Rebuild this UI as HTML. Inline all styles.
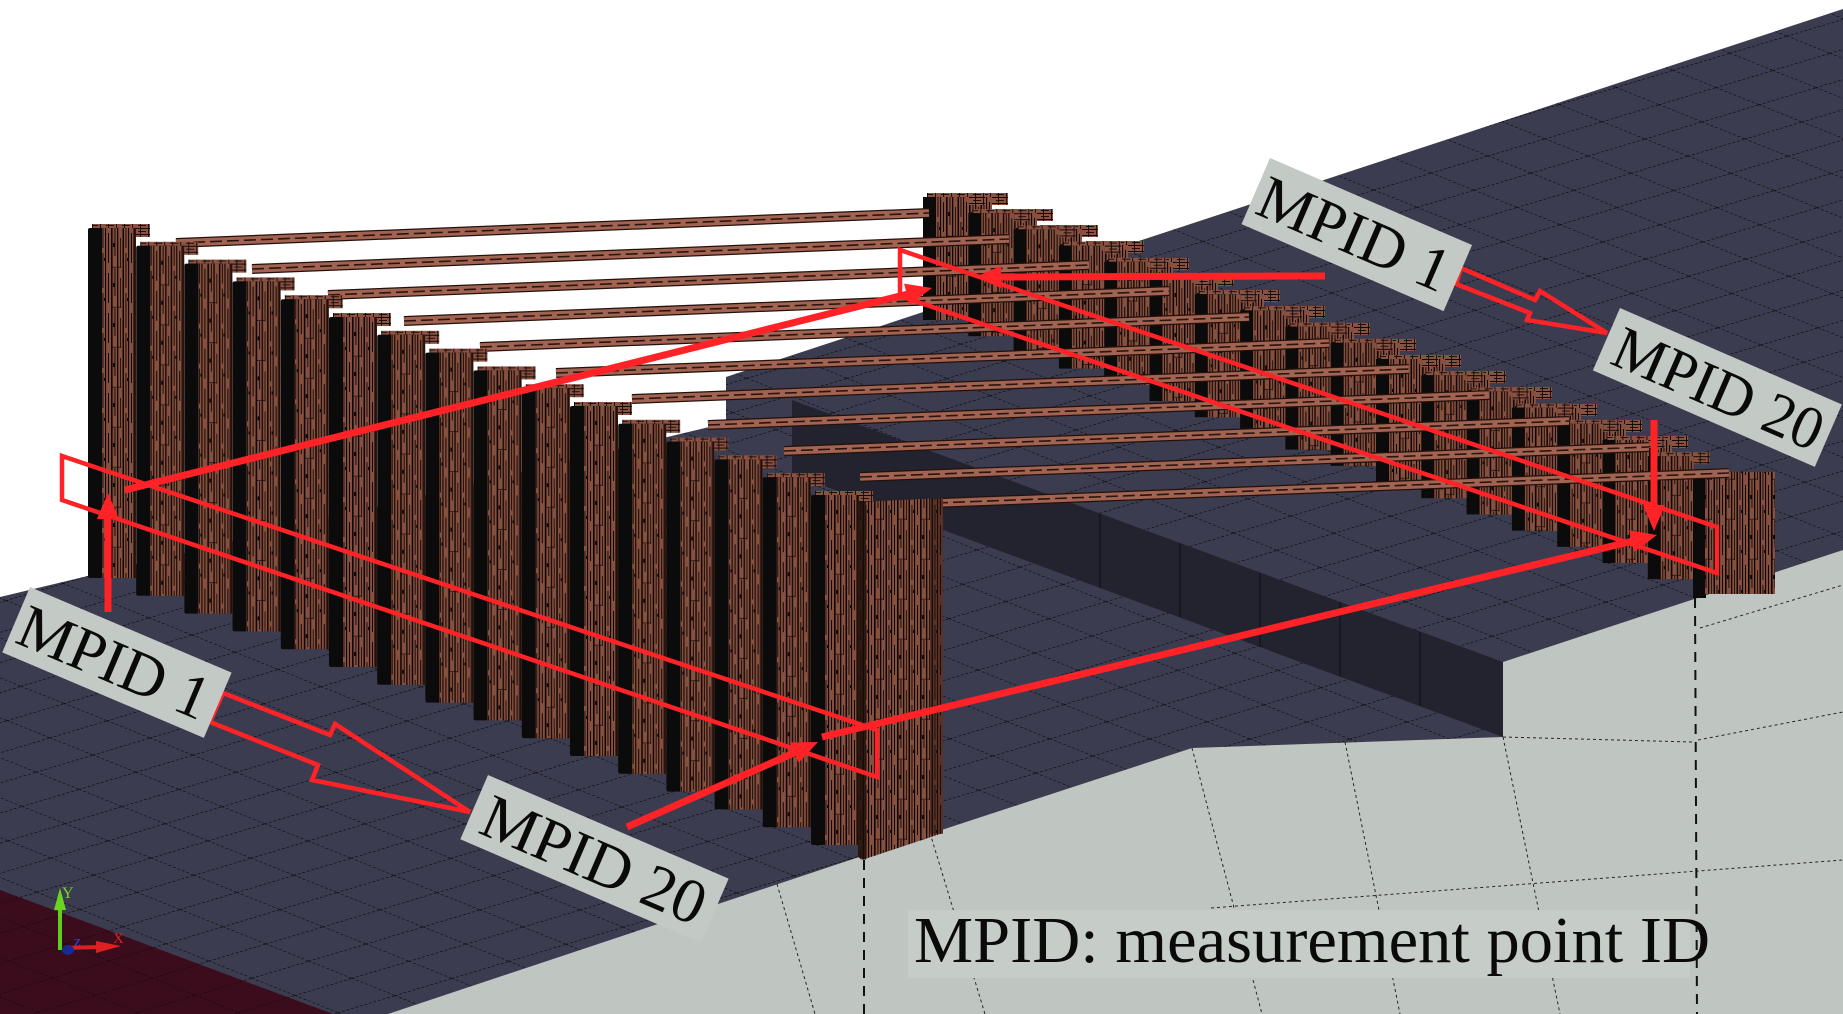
<!DOCTYPE html>
<html><head><meta charset="utf-8"><style>html,body{margin:0;padding:0;background:#fff}svg{display:block}</style></head>
<body>
<svg xmlns="http://www.w3.org/2000/svg" width="1843" height="1014" viewBox="0 0 1843 1014">
<defs>
<pattern id="wood" width="23" height="40" patternUnits="userSpaceOnUse">
<rect width="23" height="40" fill="#86503f"/>
<rect x="0" width="1.6" height="40" fill="#100605"/>
<rect x="3.5" y="0" width="0.9" height="28" fill="#100605"/>
<rect x="6" width="1.3" height="40" fill="#100605"/>
<rect x="9" y="10" width="0.8" height="30" fill="#100605"/>
<rect x="11.5" width="1.5" height="40" fill="#100605"/>
<rect x="14.5" y="0" width="0.9" height="20" fill="#100605"/>
<rect x="14.5" y="25" width="0.9" height="15" fill="#100605"/>
<rect x="17" width="1.1" height="40" fill="#100605"/>
<rect x="20" y="5" width="1" height="30" fill="#100605"/>
<rect x="2" y="15" width="2" height="4" fill="#100605"/>
<rect x="16" y="30" width="2" height="3" fill="#100605"/>
<rect x="0" y="38.8" width="9" height="0.7" fill="#100605"/>
</pattern>
<pattern id="woodh" width="16" height="6" patternUnits="userSpaceOnUse">
<rect width="16" height="6" fill="#8a5242"/>
<rect x="0" y="0" width="16" height="1" fill="#120806"/>
<rect x="2" y="3" width="8" height="0.9" fill="#120806"/>
<rect x="4" y="0" width="0.9" height="6" fill="#120806"/>
<rect x="12" y="0" width="0.9" height="6" fill="#120806"/>
</pattern>
<pattern id="grid" width="57" height="43" patternUnits="userSpaceOnUse" patternTransform="matrix(1,-0.3,1,0.4,0,0)">
<path d="M0,0.6H57 M0.6,0V43" stroke="#000" stroke-width="1.1" stroke-dasharray="2.5,2" fill="none" opacity="0.75"/>
</pattern>
<g id="fp">
<rect x="4" y="-4" width="58" height="13" fill="url(#woodh)"/>
<rect x="0" y="0" width="15" height="350" rx="2" fill="#0b0b0b"/>
<rect x="14" y="0" width="34" height="350" fill="url(#wood)"/>
<rect x="45" y="0" width="3" height="350" fill="#2a140f" opacity="0.7"/>
</g>
<g id="bp">
<rect x="4" y="-4" width="58" height="12" fill="url(#woodh)"/>
<rect x="0" y="0" width="13" height="123" fill="#0b0b0b"/>
<rect x="12" y="0" width="34" height="123" fill="url(#wood)"/>
</g>
</defs>

<rect width="1843" height="1014" fill="#ffffff"/>

<!-- ground -->
<path d="M0,597 L726,423 L726,377 L1843,9 L1843,1014 L0,1014 Z" fill="#3c3c50"/>
<path d="M0,597 L726,423 L726,377 L1843,9 L1843,1014 L0,1014 Z" fill="url(#grid)"/>
<!-- pit wall face -->
<path d="M792,400 L1503,662 L1503,737 L792,474 Z" fill="#23232f"/>
<g stroke="#000" stroke-width="1" opacity="0.6">
<line x1="1100" y1="514" x2="1100" y2="588"/><line x1="1180" y1="543" x2="1180" y2="617"/><line x1="1260" y1="573" x2="1260" y2="647"/><line x1="1340" y1="602" x2="1340" y2="676"/><line x1="1420" y1="632" x2="1420" y2="706"/>
</g>
<!-- light gray lower area -->
<path d="M388,1014 L850,860 L1192,748 L1503,737 L1503,662 L1843,550 L1843,1014 Z" fill="#bfc5c1"/>
<g stroke="#000" stroke-width="1" stroke-dasharray="3,3" fill="none" opacity="0.8">
<line x1="1192" y1="748" x2="1262" y2="1014"/>
<line x1="1345" y1="742" x2="1400" y2="1014"/>
<line x1="1503" y1="737" x2="1560" y2="1014"/>
<line x1="930" y1="833" x2="985" y2="1014"/>
<line x1="777" y1="884" x2="815" y2="1014"/>
<line x1="1211" y1="908" x2="1843" y2="860"/>
<line x1="1503" y1="737" x2="1692" y2="742"/>
<line x1="1698" y1="740" x2="1843" y2="712"/>
<line x1="1700" y1="628" x2="1843" y2="585"/>
</g>
<!-- maroon -->
<path d="M0,890 L333,1014 L0,1014 Z" fill="#3a0c1c"/>
<path d="M0,890 L333,1014 L0,1014 Z" fill="url(#grid)" opacity="0.6"/>

<!-- back piles: rear staggered row -->
<use href="#bp" x="946" y="197"/>
<use href="#bp" x="991" y="213"/>
<use href="#bp" x="1036" y="229"/>
<use href="#bp" x="1082" y="245"/>
<use href="#bp" x="1127" y="262"/>
<use href="#bp" x="1172" y="278"/>
<use href="#bp" x="1218" y="294"/>
<use href="#bp" x="1263" y="310"/>
<use href="#bp" x="1308" y="327"/>
<use href="#bp" x="1354" y="343"/>
<use href="#bp" x="1399" y="359"/>
<use href="#bp" x="1444" y="375"/>
<use href="#bp" x="1490" y="391"/>
<use href="#bp" x="1535" y="408"/>
<use href="#bp" x="1580" y="424"/>
<use href="#bp" x="1626" y="440"/>
<!-- back piles: main row -->
<use href="#bp" x="923" y="197"/>
<use href="#bp" x="968.3" y="213.2"/>
<use href="#bp" x="1013.6" y="229.4"/>
<use href="#bp" x="1058.9" y="245.6"/>
<use href="#bp" x="1104.2" y="261.8"/>
<use href="#bp" x="1149.5" y="278"/>
<use href="#bp" x="1194.8" y="294.2"/>
<use href="#bp" x="1240.1" y="310.4"/>
<use href="#bp" x="1285.4" y="326.6"/>
<use href="#bp" x="1330.7" y="342.8"/>
<use href="#bp" x="1376" y="359"/>
<use href="#bp" x="1421.3" y="375.2"/>
<use href="#bp" x="1466.6" y="391.4"/>
<use href="#bp" x="1511.9" y="407.6"/>
<use href="#bp" x="1557.2" y="423.8"/>
<use href="#bp" x="1602.5" y="440"/>
<use href="#bp" x="1647.8" y="456.2"/>
<g>
<rect x="1693" y="472" width="13" height="126" fill="#0b0b0b"/>
<rect x="1705" y="472" width="70" height="122" fill="url(#wood)"/>
</g>

<!-- cables -->
<g fill="none">
<path d="M176,243L929,213M252,269L1009,239M328,295L1089,265M404,321L1169,291M480,347L1249,317M556,373L1329,343M632,399L1409,369M708,425L1489,395M784,451L1569,421M860,477L1649,447M936,503L1729,473" stroke="#24100b" stroke-width="10"/>
<path d="M176,243L929,213M252,269L1009,239M328,295L1089,265M404,321L1169,291M480,347L1249,317M556,373L1329,343M632,399L1409,369M708,425L1489,395M784,451L1569,421M860,477L1649,447M936,503L1729,473" stroke="#a26452" stroke-width="7.5"/>
<path d="M176,243L929,213M252,269L1009,239M328,295L1089,265M404,321L1169,291M480,347L1249,317M556,373L1329,343M632,399L1409,369M708,425L1489,395M784,451L1569,421M860,477L1649,447M936,503L1729,473" stroke="#2a140e" stroke-width="1.6" stroke-dasharray="12,5"/>
</g>

<!-- front piles -->
<use href="#fp" x="88" y="228"/>
<use href="#fp" x="136.2" y="245.8"/>
<use href="#fp" x="184.4" y="263.6"/>
<use href="#fp" x="232.6" y="281.4"/>
<use href="#fp" x="280.8" y="299.2"/>
<use href="#fp" x="329" y="317"/>
<use href="#fp" x="377.2" y="334.8"/>
<use href="#fp" x="425.4" y="352.6"/>
<use href="#fp" x="473.6" y="370.4"/>
<use href="#fp" x="521.8" y="388.2"/>
<use href="#fp" x="570" y="406"/>
<use href="#fp" x="618.2" y="423.8"/>
<use href="#fp" x="666.4" y="441.6"/>
<use href="#fp" x="714.6" y="459.4"/>
<use href="#fp" x="762.8" y="477.2"/>
<use href="#fp" x="811" y="495"/>
<!-- corner pile -->
<path d="M858,502 L943,498 L943,833 L862,860 L858,857 Z" fill="url(#wood)"/>
<path d="M858,502 L866,502 L866,860 L858,857 Z" fill="#1a0c08" opacity="0.8"/>
<rect x="930" y="498" width="13" height="336" fill="#2a140f" opacity="0.5"/>

<!-- dashed vertical lines -->
<g stroke="#111" stroke-width="2" stroke-dasharray="10,8">
<line x1="864" y1="860" x2="864" y2="1014"/>
<line x1="1695" y1="598" x2="1697" y2="1014"/>
</g>

<!-- red boxes -->
<g fill="none" stroke="#ff2226" stroke-width="4.5" stroke-linejoin="miter">
<polygon points="62,456 877,730 877,777 62,500"/>
<polygon points="900,250 1717,527 1717,573 900,296"/>
</g>

<!-- thick arrows -->
<g stroke="#ff2226" stroke-width="7" fill="none" stroke-linecap="butt">
<line x1="1325" y1="276" x2="998" y2="277"/>
<line x1="108" y1="612" x2="108" y2="516"/>
<line x1="125" y1="490" x2="908" y2="294"/>
<line x1="627" y1="827" x2="796" y2="752"/>
<line x1="822" y1="737" x2="1633" y2="541"/>
<line x1="1654" y1="420" x2="1654" y2="508"/>
</g>
<g fill="#ff2226">
<polygon points="975,277 1001,266 1001,288"/>
<polygon points="108,493 97,519 119,519"/>
<polygon points="932,288 909.5,305 904.1,283.6"/>
<polygon points="818,742 798.7,762.7 789.7,742.5"/>
<polygon points="1657,535 1634.3,551.8 1629.1,530.4"/>
<polygon points="1654,531 1643,505 1665,505"/>
</g>

<!-- hollow arrows -->
<g fill="none" stroke="#ff2226" stroke-width="4.5" stroke-linejoin="miter">
<polygon points="223,693 330,735 335,724 470,812 312,780 318,765 210,722"/>
<polygon points="1461,268 1535,300 1540,291 1607,333 1527,320 1530,313 1456,284"/>
</g>

<!-- labels -->
<g font-family="'Liberation Serif', serif" fill="#0a0a0a">
<g transform="translate(30,587) rotate(23)">
<rect width="219" height="71" fill="#c3c9c5"/>
<text x="6" y="57" font-size="62" textLength="202" lengthAdjust="spacingAndGlyphs">MPID 1</text>
</g>
<g transform="translate(488,775) rotate(23.3)">
<rect width="262" height="70" fill="#c3c9c5"/>
<text x="12" y="57" font-size="63" textLength="238" lengthAdjust="spacingAndGlyphs">MPID 20</text>
</g>
<g transform="translate(1270,158) rotate(23.3)">
<rect width="220" height="72" fill="#c3c9c5"/>
<text x="6" y="57" font-size="62" textLength="203" lengthAdjust="spacingAndGlyphs">MPID 1</text>
</g>
<g transform="translate(1620,308) rotate(23.5)">
<rect width="242" height="68" fill="#c3c9c5"/>
<text x="11" y="55" font-size="61" textLength="223" lengthAdjust="spacingAndGlyphs">MPID 20</text>
</g>
<rect x="908" y="910" width="782" height="68" fill="#c6ccc8"/>
<text x="914" y="962" font-size="66" textLength="796" lengthAdjust="spacingAndGlyphs">MPID: measurement point ID</text>
</g>

<!-- axis triad -->
<g>
<line x1="60" y1="950" x2="60" y2="905" stroke="#5ecf1a" stroke-width="4"/>
<polygon points="54,910 66,910 60,888" fill="#6ad41e"/>
<text x="62" y="898" font-family="'Liberation Serif', serif" font-size="16" fill="#7fd42a">Y</text>
<line x1="65" y1="948" x2="100" y2="947" stroke="#e02020" stroke-width="4"/>
<polygon points="96,941 96,953 121,946" fill="#e02020"/>
<text x="113" y="943" font-family="'Liberation Serif', serif" font-size="15" fill="#e02020">X</text>
<ellipse cx="68" cy="950" rx="6" ry="5" fill="#1a2a90"/>
<text x="74" y="946" font-family="'Liberation Serif', serif" font-size="11" fill="#3050ff">Z</text>
</g>
</svg>
</body></html>
